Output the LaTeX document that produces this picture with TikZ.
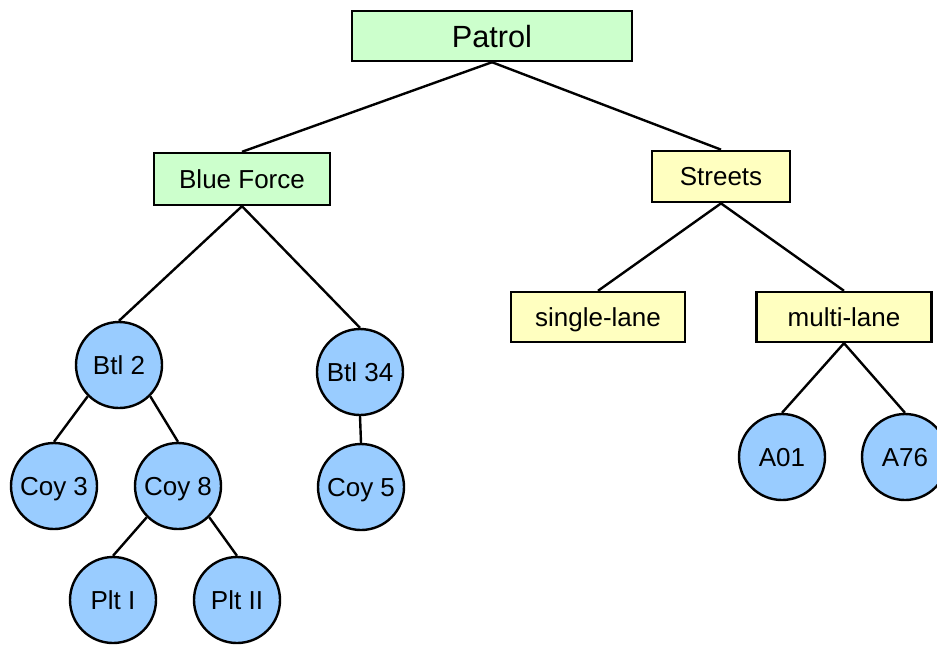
\documentclass[tikz,border=0pt]{standalone}
\usepackage{fontspec}
\setmainfont{Liberation Sans}
\definecolor{boxgreen}{HTML}{CCFFCC}
\definecolor{boxyellow}{HTML}{FFFFC0}
\definecolor{unitblue}{HTML}{99CCFF}
\begin{document}
\begin{tikzpicture}[x=0.75pt,y=-0.75pt,
  line width=1.8pt,
  lbl/.style={font=\fontsize{19.5}{23}\selectfont,text height=14pt,text depth=0pt},
  gbox/.style={lbl,draw,fill=boxgreen,rectangle,inner sep=0pt},
  ybox/.style={lbl,draw,fill=boxyellow,rectangle,inner sep=0pt,minimum height=37.5pt},
  unit/.style={lbl,draw,fill=unitblue,circle,inner sep=0pt,minimum size=64.5pt},
  link/.style={draw,line width=1.8pt}]
\useasboundingbox (0,0) rectangle (937,644);
\clip (0,0) rectangle (937,644);

% rectangular category nodes
\node[gbox,minimum width=210pt,minimum height=37.5pt,font=\fontsize{23}{27}\selectfont,text height=16.5pt] (patrol) at (492,36) {Patrol};
\node[gbox,minimum width=132pt,minimum height=39pt] (blue) at (242,179) {Blue Force};
\node[ybox,minimum width=103.5pt,minimum height=38.5pt] (streets) at (721,176.5) {Streets};
\node[ybox,minimum width=130.5pt] (single) at (598,317) {single-lane};
\node[ybox,minimum width=131.5pt] (multi) at (844,317) {multi-lane};

% circular unit nodes
\node[unit] (btl2) at (119,365) {Btl 2};
\node[unit] (btl34) at (360,372) {Btl 34};
\node[unit] (coy3) at (54,486) {Coy 3};
\node[unit] (coy8) at (178,486) {Coy 8};
\node[unit] (coy5) at (361,487) {Coy 5};
\node[unit] (plt1) at (113,600) {Plt I};
\node[unit] (plt2) at (237,600) {Plt II};
\node[unit] (a01) at (782,457) {A01};
\node[unit] (a76) at (905,457) {A76};

% tree links
\draw[link] (patrol.south) -- (blue.north);
\draw[link] (patrol.south) -- (streets.north);
\draw[link] (blue.south) -- (btl2.north);
\draw[link] (blue.south) -- (btl34.north);
\draw[link] (btl2.south west) -- (coy3.north);
\draw[link] (btl2.south east) -- (coy8.north);
\draw[link] (coy8.south west) -- (plt1.north);
\draw[link] (coy8.south east) -- (plt2.north);
\draw[link] (btl34.south) -- (coy5.north);
\draw[link] (streets.south) -- (single.north);
\draw[link] (streets.south) -- (multi.north);
\draw[link] (multi.south) -- (a01.north);
\draw[link] (multi.south) -- (a76.north);
\end{tikzpicture}
\end{document}
